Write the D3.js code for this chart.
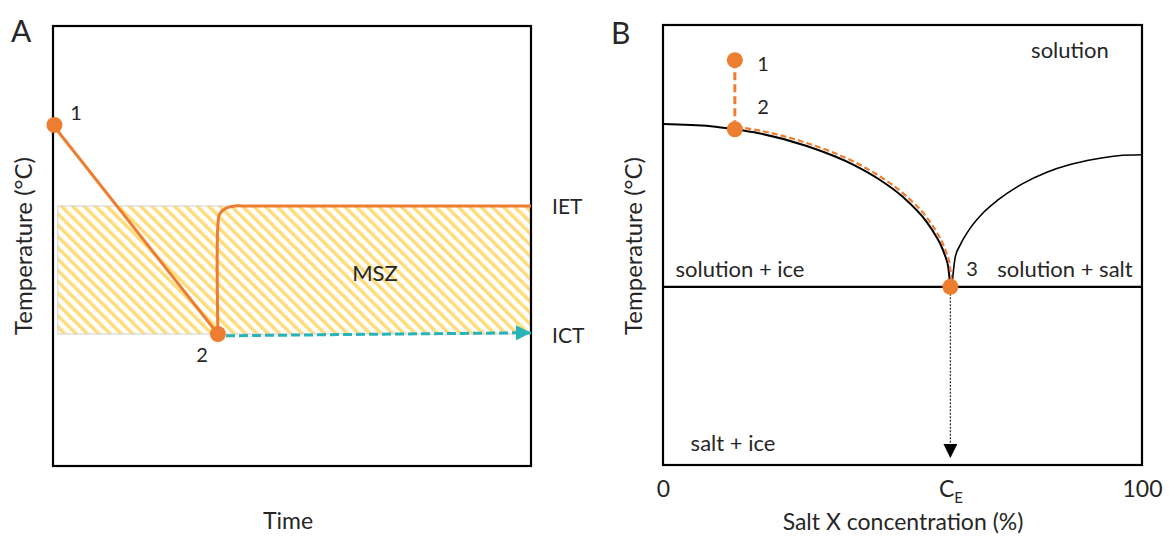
<!DOCTYPE html>
<head>
<meta charset="utf-8">
<script src="https://d3js.org/d3.v7.min.js"></script>
<style>
body, html { margin: 0; padding: 0; background: #fff; }
svg text { font-family: "Lato", "Noto Sans", sans-serif; fill: #262626; }
.box { fill: none; stroke: #000; stroke-width: 2.2px; }
</style>
</head>
<body>
<div id="chart"></div>
<script>
// ---- panel A data (time vs temperature, arbitrary units 0-100)
var coolTime = [0, 34.5];
var coolTemp = [77.5, 30];
var recovTime = [34.5, 34.5, 34.9, 36.2, 38.1, 39.7, 100];
var recovTemp = [30, 54.8, 57.3, 58.6, 59.1, 59.1, 59.1];
var ietTemp = 59.1, ictTemp = 30;
var hatchTime = [1, 100];
var ictArrowTime = [36.2, 100];
var ictArrowTemp = [29.6, 30.3];
var pointsA = [{t: 0.3, y: 77.5, lab: "1"}, {t: 34.5, y: 30, lab: "2"}];

// ---- panel B data (salt concentration vs temperature)
var liqConc = [0, 10, 15, 20, 30, 40, 45, 50, 55, 57, 58, 59, 59.5, 60];
var liqTemp = [77.5, 77, 76.3, 75.4, 72.5, 68.1, 65, 61, 55.3, 52, 50, 47.2, 45.3, 40.5];
var solConc = [60.3, 61, 62, 64, 67, 70, 75, 80, 85, 90, 95, 100];
var solTemp = [40.5, 47.2, 49.9, 53.6, 57.5, 60.3, 63.9, 66.5, 68.3, 69.5, 70.3, 70.5];
var eutecticTemp = 40.5, CE = 60;
var pointsB = [{c: 15, y: 92, lab: "1"}, {c: 15, y: 76.3, lab: "2"}, {c: 60, y: 40.5, lab: "3"}];
var tickValsB = [0, 60, 100];
var tickLabsB = ["0", "CE", "100"];

var orange = "#ed7d31", teal = "#27b3b8";

var svg = d3.select("#chart").append("svg")
    .attr("width", 1169).attr("height", 536);

var defs = svg.append("defs");
var pat = defs.append("pattern")
    .attr("id", "hatch").attr("patternUnits", "userSpaceOnUse")
    .attr("width", 8).attr("height", 8)
    .attr("patternTransform", "rotate(-45)");
pat.append("rect").attr("width", 8).attr("height", 8).attr("fill", "#fff");
pat.append("rect").attr("width", 3.5).attr("height", 8).attr("fill", "#ffdc7a");

function arrowMarker(id, color, w, h) {
  defs.append("marker")
    .attr("id", id).attr("viewBox", "0 0 10 10")
    .attr("refX", 10).attr("refY", 5)
    .attr("markerWidth", w).attr("markerHeight", h)
    .attr("markerUnits", "userSpaceOnUse")
    .attr("orient", "auto")
    .append("path").attr("d", "M0,0L10,5L0,10Z").attr("fill", color);
}
arrowMarker("arrTeal", teal, 15, 15);
arrowMarker("arrBlack", "#000", 14, 14);

function label(g, x, y, txt, size, anchor) {
  return g.append("text").attr("x", x).attr("y", y)
    .attr("font-size", size).attr("text-anchor", anchor || "middle")
    .attr("dominant-baseline", "central").text(txt);
}

// ================= Panel A
var xA = d3.scaleLinear().domain([0, 100]).range([53, 531]);
var yA = d3.scaleLinear().domain([0, 100]).range([466, 26]);
var gA = svg.append("g");

gA.append("rect")
  .attr("x", xA(hatchTime[0])).attr("y", yA(ietTemp))
  .attr("width", xA(hatchTime[1]) - xA(hatchTime[0]))
  .attr("height", yA(ictTemp) - yA(ietTemp))
  .attr("fill", "url(#hatch)").attr("stroke", "#cfcfcf").attr("stroke-width", 1);

gA.append("rect").attr("class", "box")
  .attr("x", xA(0)).attr("y", yA(100))
  .attr("width", xA(100) - xA(0)).attr("height", yA(0) - yA(100));

var lineA = d3.line().x(function(d) { return xA(d[0]); }).y(function(d) { return yA(d[1]); });

gA.append("path")
  .datum(d3.zip(ictArrowTime, ictArrowTemp))
  .attr("d", lineA).attr("fill", "none")
  .attr("stroke", teal).attr("stroke-width", 3).attr("stroke-dasharray", "9,4")
  .attr("marker-end", "url(#arrTeal)");

gA.append("path")
  .datum(d3.zip(coolTime, coolTemp))
  .attr("d", lineA).attr("fill", "none").attr("stroke", orange).attr("stroke-width", 3);

gA.append("path")
  .datum(d3.zip(recovTime, recovTemp))
  .attr("d", lineA.curve(d3.curveCatmullRom.alpha(0.5)))
  .attr("fill", "none").attr("stroke", orange).attr("stroke-width", 3);

gA.selectAll("circle.pt").data(pointsA).enter().append("circle")
  .attr("cx", function(d) { return xA(d.t); }).attr("cy", function(d) { return yA(d.y); })
  .attr("r", 8).attr("fill", orange);

label(gA, 76, 112, "1", 20);
label(gA, 202, 354, "2", 20);
label(gA, 375, 272, "MSZ", 22);
label(gA, 552, yA(ietTemp), "IET", 21, "start");
label(gA, 552, yA(ictTemp), "ICT", 21, "start");
label(gA, 11, 30, "A", 30, "start");
label(gA, 288, 520, "Time", 23);
gA.append("text").attr("transform", "translate(22,246) rotate(-90)")
  .attr("font-size", 24).attr("text-anchor", "middle").attr("dominant-baseline", "central")
  .text("Temperature (\u00B0C)");

// ================= Panel B
var xB = d3.scaleLinear().domain([0, 100]).range([663, 1142]);
var yB = d3.scaleLinear().domain([0, 100]).range([465, 25]);
var gB = svg.append("g");

var lineB = d3.line().x(function(d) { return xB(d[0]); }).y(function(d) { return yB(d[1]); })
  .curve(d3.curveMonotoneX);

gB.append("path")
  .datum([[CE, eutecticTemp], [CE, 1.6]])
  .attr("d", d3.line().x(function(d) { return xB(d[0]); }).y(function(d) { return yB(d[1]); }))
  .attr("stroke", "#333").attr("stroke-width", 1.3).attr("stroke-dasharray", "2,1.5")
  .attr("marker-end", "url(#arrBlack)");

gB.append("line")
  .attr("x1", xB(0)).attr("x2", xB(100))
  .attr("y1", yB(eutecticTemp)).attr("y2", yB(eutecticTemp))
  .attr("stroke", "#000").attr("stroke-width", 2.2);

gB.append("path").datum(d3.zip(liqConc, liqTemp))
  .attr("d", lineB).attr("fill", "none").attr("stroke", "#000").attr("stroke-width", 2);
gB.append("path").datum(d3.zip(solConc, solTemp))
  .attr("d", lineB).attr("fill", "none").attr("stroke", "#000").attr("stroke-width", 1.6);

// orange dashed path following the liquidus from point 2 to point 3
gB.append("path")
  .datum(d3.zip(liqConc, liqTemp).filter(function(d) { return d[0] >= 15; }))
  .attr("d", lineB).attr("transform", "translate(1.5,-2.5)")
  .attr("fill", "none").attr("stroke", orange).attr("stroke-width", 2.2)
  .attr("stroke-dasharray", "6,3");

gB.append("path")
  .datum([[pointsB[0].c, pointsB[0].y], [pointsB[1].c, pointsB[1].y]])
  .attr("d", d3.line().x(function(d) { return xB(d[0]); }).y(function(d) { return yB(d[1]); }))
  .attr("stroke", orange).attr("stroke-width", 3).attr("stroke-dasharray", "8,4");

gB.append("rect").attr("class", "box")
  .attr("x", xB(0)).attr("y", yB(100))
  .attr("width", xB(100) - xB(0)).attr("height", yB(0) - yB(100));

gB.selectAll("circle.pt").data(pointsB).enter().append("circle")
  .attr("cx", function(d) { return xB(d.c); }).attr("cy", function(d) { return yB(d.y); })
  .attr("r", 8).attr("fill", orange);

label(gB, 763, 63, "1", 20);
label(gB, 763, 106, "2", 20);
label(gB, 972, 268, "3", 20);

var regionLabs = [
  {x: 1070, y: 49, t: "solution"},
  {x: 740, y: 268, t: "solution + ice"},
  {x: 1065, y: 268, t: "solution + salt"},
  {x: 733, y: 442, t: "salt + ice"}
];
regionLabs.forEach(function(d) { label(gB, d.x, d.y, d.t, 22); });

var axB = gB.append("g").attr("transform", "translate(0," + yB(0) + ")")
  .call(d3.axisBottom(xB).tickValues(tickValsB).tickSize(0).tickPadding(16)
        .tickFormat(function(d, i) { return tickLabsB[i]; }));
axB.select(".domain").remove();
axB.selectAll("text").attr("font-size", 23).attr("fill", "#262626")
  .style("font-family", "Lato, 'Noto Sans', sans-serif");
axB.selectAll(".tick").filter(function(d) { return d === CE; }).select("text")
  .text(null)
  .call(function(t) {
    t.append("tspan").text("C");
    t.append("tspan").attr("font-size", 15).attr("dy", 6).text("E");
  });

label(gB, 903, 521, "Salt X concentration (%)", 23);
gB.append("text").attr("transform", "translate(632,246) rotate(-90)")
  .attr("font-size", 24).attr("text-anchor", "middle").attr("dominant-baseline", "central")
  .text("Temperature (\u00B0C)");
label(gB, 611, 32, "B", 30, "start");
</script>
</body>
